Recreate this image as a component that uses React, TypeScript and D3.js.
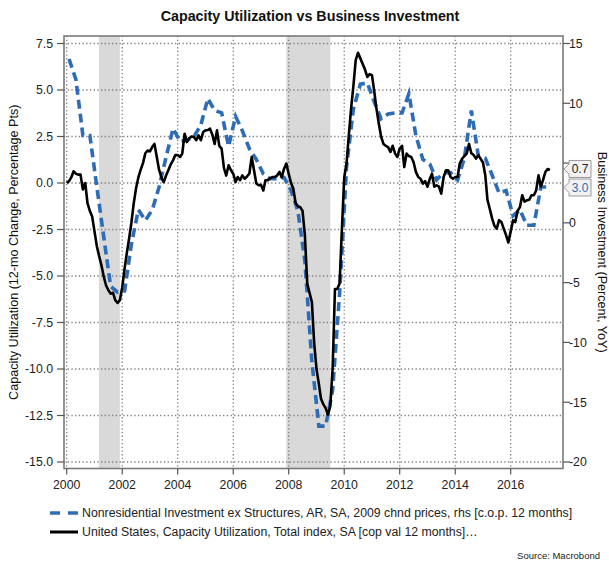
import React from 'react';
import * as d3 from 'd3';

// Capacity utilization, monthly, Jan 2000 .. Jun 2017 (left axis, pts)
const capUtil: number[] = [
  0.0, 0.1, 0.3, 0.63, 0.5, 0.45, 0.45, -0.35, 0.0, -1.1, -1.5, -1.8,
  -2.6, -3.4, -3.9, -4.4, -5.0, -5.5, -5.75, -5.95, -5.9, -6.3, -6.45, -6.3,
  -5.6, -4.6, -3.8, -3.0, -2.15, -1.1, -0.3, 0.3, 0.72, 1.07, 1.6, 1.75,
  1.7, 1.95, 2.1, 1.4, 0.7, 0.3, 0.05, 0.4, 0.7, 1.0, 1.22, 1.5,
  1.5, 1.4, 1.58, 2.65, 2.2, 2.4, 2.5, 2.47, 2.3, 2.56, 2.3, 2.74,
  2.83, 2.85, 2.92, 2.6, 2.1, 2.83, 2.0, 1.85, 0.8, 0.4, 0.95, 0.7,
  0.5, 0.05, 0.32, 0.15, 0.41, 0.23, 0.35, 0.5, 1.4, 0.7, -0.03, -0.12,
  -0.1, -0.4, 0.15, 0.15, 0.25, 0.32, 0.32, 0.4, 0.6, 0.3, 0.77, 1.04,
  0.5, 0.0, -0.3, -1.07, -1.25, -1.3, -1.5, -2.8, -5.4, -5.9, -6.4, -8.6,
  -10.0, -10.8, -11.6, -11.9, -12.1, -12.45, -12.0, -10.0, -5.7, -5.7, -5.4, -2.5,
  0.3, 1.07, 2.5, 4.0, 5.2, 6.6, 7.0, 6.7, 6.4, 6.1, 5.7, 5.85,
  5.8, 4.9, 4.0, 3.2, 2.5, 2.1, 2.0, 1.93, 1.67, 2.0, 1.58, 1.4,
  1.85, 2.0, 0.86, 1.58, 1.45, 1.4, 1.13, 0.6, 0.32, 0.23, -0.03, 0.1,
  -0.2, 0.23, 0.5, -0.2, -0.12, -0.2, -0.57, 0.32, 0.68, 0.68, 0.32, 0.23,
  0.32, 0.32, 1.04, 1.3, 1.45, 1.58, 2.1, 1.6, 1.5, 1.31, 1.5, 1.3,
  1.1, 0.4, -0.9, -1.4, -1.9, -2.3, -2.45, -2.0, -2.1, -2.45, -2.8, -3.2,
  -2.6, -2.0, -2.1, -1.5, -1.3, -0.66, -1.0, -0.93, -0.9, -0.66, -0.66, -0.4,
  0.41, -0.2, 0.15, 0.59, 0.75, 0.7,
];

// Nonresidential investment ex structures, quarterly, 2000Q1 .. 2017Q2 (right axis, %)
const investment: number[] = [
  13.7, 12.0, 7.3, 7.3,
  3.0, -1.1, -5.3, -5.8,
  -5.7, -1.8, 1.1, 0.2,
  1.1, 3.0, 5.5, 7.9,
  6.8, 6.9, 7.2, 8.2,
  10.4, 9.4, 9.2, 6.4,
  8.9, 7.7, 6.2, 5.3,
  4.1, 3.7, 3.7, 3.8,
  2.7, 1.0, -3.2, -11.6,
  -17.0, -17.0, -14.0, -5.9,
  4.7, 9.5, 11.6, 11.7,
  10.1, 8.7, 9.1, 9.2,
  9.2, 10.8, 7.3, 5.3,
  4.9, 3.6, 4.2, 4.2,
  3.6, 5.4, 9.4, 5.6,
  5.4, 4.0, 2.5, 2.7,
  0.6, 1.1, -0.2, -0.2,
  3.0, 3.0,
];

const recessions: [Date, Date][] = [
  [new Date(2001, 2, 1), new Date(2001, 11, 1)],
  [new Date(2007, 11, 1), new Date(2009, 6, 1)],
];

const leftTicks = [7.5, 5.0, 2.5, 0.0, -2.5, -5.0, -7.5, -10.0, -12.5, -15.0];
const rightTicks = [15, 10, 5, 0, -5, -10, -15, -20];
const yearTicks = [2000, 2002, 2004, 2006, 2008, 2010, 2012, 2014, 2016];

const blueLabel = 'Nonresidential Investment ex Structures, AR, SA, 2009 chnd prices, rhs [c.o.p. 12 months]';
const blackLabel = 'United States, Capacity Utilization, Total index, SA [cop val 12 months]…';

const BLUE = '#2e6db6';
const FONT = '"Liberation Sans", Arial, sans-serif';

export default function App() {
  const W = 609;
  const H = 561;
  const plot = { left: 64, right: 563, top: 36, bottom: 468.5 };

  const x = d3
    .scaleTime()
    .domain([new Date(2000, 0, 1), new Date(2016, 0, 1)])
    .range([66.7, 510.7]);
  const yL = d3.scaleLinear().domain([-15, 7.5]).range([462, 43.5]);
  const yR = d3.scaleLinear().domain([-20, 15]).range([462, 43.5]);

  const capPts = capUtil.map((v, i) => ({ d: new Date(2000, i, 1), v }));
  // quarterly values placed at the middle month of each quarter
  const invPts = investment.map((v, q) => ({ d: new Date(2000, q * 3 + 1, 1), v }));

  const capLine = d3
    .line<{ d: Date; v: number }>()
    .x((p) => x(p.d))
    .y((p) => yL(p.v));
  const invLine = d3
    .line<{ d: Date; v: number }>()
    .x((p) => x(p.d))
    .y((p) => yR(p.v));

  const lastCap = capUtil[capUtil.length - 1];
  const lastInv = investment[investment.length - 1];
  const capTagY = yL(lastCap) - 1;
  const invTagY = yR(lastInv) + 0.5;
  const tagH = 8.5;

  const tag = (yc: number) => {
    const l = plot.right + 1;
    const bx = l + 5;
    const bw = 22;
    return `M${l},${yc} L${bx},${yc - 5} L${bx},${yc - tagH} L${bx + bw},${yc - tagH} L${bx + bw},${yc + tagH} L${bx},${yc + tagH} L${bx},${yc + 5} Z`;
  };
  const hiddenByTag = (yy: number) =>
    [capTagY, invTagY].some((t) => Math.abs(yy - t) < tagH + 4);

  return (
    <svg
      width={W}
      height={H}
      style={{ position: 'absolute', left: 0, top: 0, background: '#fff' }}
      fontFamily={FONT}
    >
      <rect width={W} height={H} fill="#fff" />
      <text x={310} y={21} textAnchor="middle" fontSize={14.3} fontWeight="bold" fill="#111">
        Capacity Utilization vs Business Investment
      </text>

      {/* recession shading */}
      {recessions.map(([a, b], i) => (
        <rect
          key={i}
          x={x(a)}
          y={plot.top}
          width={x(b) - x(a)}
          height={plot.bottom - plot.top}
          fill="#d9d9d9"
        />
      ))}

      {/* grid */}
      <g stroke="#7f7f7f" strokeWidth={1.3} strokeDasharray="1.3 2.4">
        {leftTicks.map((t) => (
          <line key={t} x1={plot.left} x2={plot.right} y1={yL(t)} y2={yL(t)} />
        ))}
        {yearTicks.map((yr) => (
          <line
            key={yr}
            x1={x(new Date(yr, 0, 1))}
            x2={x(new Date(yr, 0, 1))}
            y1={plot.top}
            y2={plot.bottom}
          />
        ))}
      </g>

      {/* series */}
      <path
        d={invLine(invPts) ?? ''}
        fill="none"
        stroke={BLUE}
        strokeWidth={3.6}
        strokeDasharray="9 5"
      />
      <path
        d={capLine(capPts) ?? ''}
        fill="none"
        stroke="#000"
        strokeWidth={2.6}
        strokeLinejoin="round"
      />

      {/* frame */}
      <rect
        x={plot.left}
        y={plot.top}
        width={plot.right - plot.left}
        height={plot.bottom - plot.top}
        fill="none"
        stroke="#7a7a7a"
        strokeWidth={1.6}
      />

      {/* left axis */}
      <g fontSize={12.3} fill="#222">
        {leftTicks.map((t) => (
          <g key={t}>
            <line x1={plot.left - 7} x2={plot.left} y1={yL(t)} y2={yL(t)} stroke="#555" strokeWidth={1.2} />
            <text x={plot.left - 11} y={yL(t)} dy="0.35em" textAnchor="end">
              {t.toFixed(1)}
            </text>
          </g>
        ))}
      </g>

      {/* right axis */}
      <g fontSize={12.3} fill="#222">
        {rightTicks.map((t) => (
          <g key={t}>
            <line x1={plot.right} x2={plot.right + 7} y1={yR(t)} y2={yR(t)} stroke="#555" strokeWidth={1.2} />
            {!hiddenByTag(yR(t)) && (
              <text x={plot.right + 6} y={yR(t)} dy="0.35em" textAnchor="start">
                {t}
              </text>
            )}
          </g>
        ))}
      </g>

      {/* bottom axis */}
      <g fontSize={12.3} fill="#222">
        {yearTicks.map((yr) => {
          const xx = x(new Date(yr, 0, 1));
          return (
            <g key={yr}>
              <line x1={xx} x2={xx} y1={plot.bottom} y2={plot.bottom + 6} stroke="#555" strokeWidth={1.2} />
              <text x={xx} y={489} textAnchor="middle">
                {yr}
              </text>
            </g>
          );
        })}
      </g>

      {/* last value tags */}
      <path d={tag(capTagY)} fill="#f2f2f2" stroke="#9a9a9a" strokeWidth={1} />
      <text x={plot.right + 17} y={capTagY} dy="0.36em" textAnchor="middle" fontSize={12} fill="#222">
        {lastCap.toFixed(1)}
      </text>
      <path d={tag(invTagY)} fill="#f2f2f2" stroke="#9a9a9a" strokeWidth={1} />
      <text x={plot.right + 17} y={invTagY} dy="0.36em" textAnchor="middle" fontSize={12} fill={BLUE}>
        {lastInv.toFixed(1)}
      </text>

      {/* axis titles */}
      <text
        transform={`translate(18,${(plot.top + plot.bottom) / 2}) rotate(-90)`}
        textAnchor="middle"
        fontSize={12.6}
        fill="#111"
      >
        Capacity Utilization (12-mo Change, Percentage Pts)
      </text>
      <text
        transform={`translate(598,${(plot.top + plot.bottom) / 2}) rotate(90)`}
        textAnchor="middle"
        fontSize={12.6}
        fill="#111"
      >
        Business Investment (Percent, YoY)
      </text>

      {/* legend */}
      <line x1={50} x2={78} y1={513} y2={513} stroke={BLUE} strokeWidth={3.6} strokeDasharray="10 8" />
      <text x={82} y={513} dy="0.35em" fontSize={12.3} fill="#222">
        {blueLabel}
      </text>
      <line x1={50} x2={78} y1={532} y2={532} stroke="#000" strokeWidth={3} />
      <text x={82} y={532} dy="0.35em" fontSize={12.3} fill="#222">
        {blackLabel}
      </text>

      <text x={600} y={559} textAnchor="end" fontSize={9.5} fill="#222">
        Source: Macrobond
      </text>
    </svg>
  );
}
